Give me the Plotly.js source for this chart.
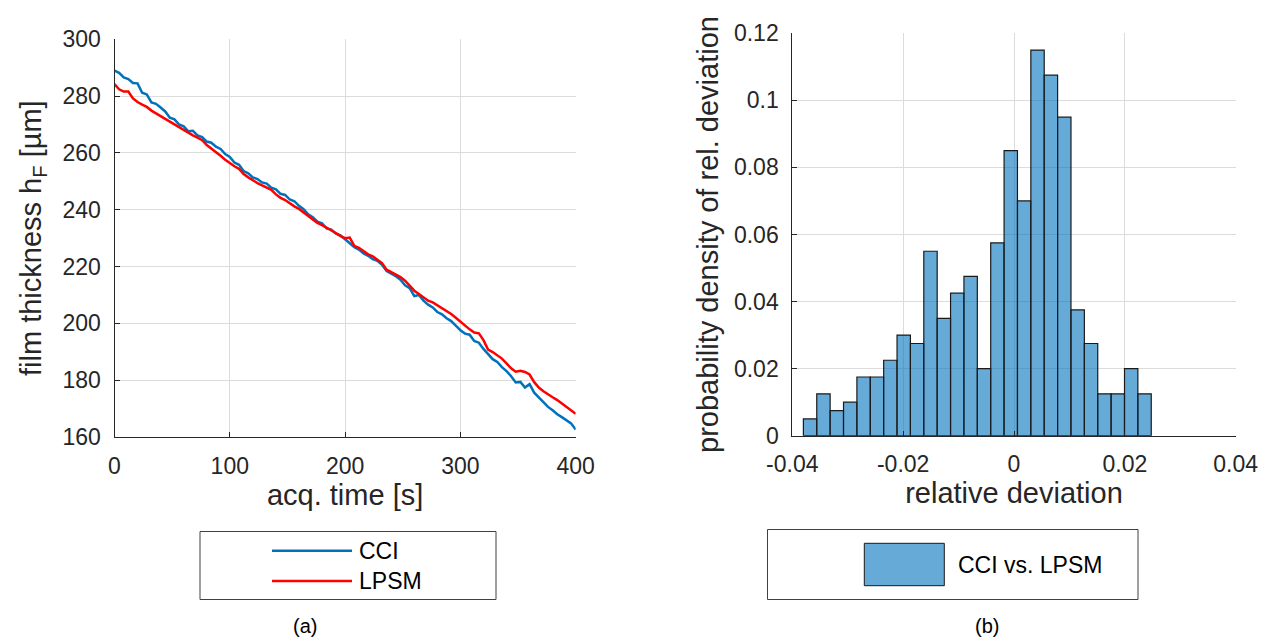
<!DOCTYPE html>
<html>
<head>
<meta charset="utf-8">
<script src="https://cdn.plot.ly/plotly-3.0.1.min.js"></script>
<style>html,body{margin:0;padding:0;background:#fff;}#chart{width:1278px;height:639px;}</style>
</head>
<body>
<div id="chart"></div>
<script>
// ---- data: panel (a) film thickness over acquisition time ----
const timeCCI = [0,4,8,12,16,20,24,28,32,36,40,44,48,52,56,60,64,68,72,76,80,84,88,92,96,100,104,108,112,116,120,124,128,132,136,140,144,148,152,156,160,164,168,172,176,180,184,188,192,196,200,204,208,212,216,220,224,228,232,236,240,244,248,252,256,260,264,268,272,276,280,284,288,292,296,300,304,308,312,316,320,324,328,332,336,340,344,348,352,356,360,364,368,372,376,380,384,388,392,396,400];
const thicknessCCI = [289.0,288.2,286.6,286.0,284.6,284.5,281.2,280.6,277.8,277.3,276.0,274.6,272.4,271.8,270.0,269.4,267.6,267.8,266.2,265.6,264.0,263.6,262.2,261.4,259.6,258.6,256.6,255.8,253.6,252.8,251.4,250.8,249.6,249.2,247.8,247.2,245.6,245.2,243.6,243.0,241.4,240.2,238.4,237.4,235.8,235.2,233.4,233.0,231.6,231.0,229.6,228.2,226.8,226.0,224.6,223.8,222.6,222.0,220.6,218.4,217.6,216.6,215.4,213.4,212.4,209.6,210.0,208.0,206.6,205.6,204.0,203.2,201.8,200.8,199.2,197.6,196.4,196.0,193.8,193.2,191.0,189.0,187.4,186.4,184.6,183.2,181.4,179.2,179.4,177.4,178.6,175.6,174.0,172.4,170.6,169.4,168.0,167.0,166.0,164.8,162.6];
const timeLPSM = [0,4,8,12,16,20,24,28,32,36,40,44,48,52,56,60,64,68,72,76,80,84,88,92,96,100,104,108,112,116,120,124,128,132,136,140,144,148,152,156,160,164,168,172,176,180,184,188,192,196,200,204,208,212,216,220,224,228,232,236,240,244,248,252,256,260,264,268,272,276,280,284,288,292,296,300,304,308,312,316,320,324,328,332,336,340,344,348,352,356,360,364,368,372,376,380,384,388,392,396,400];
const thicknessLPSM = [284.2,282.4,281.6,281.6,279.2,277.9,277.0,276.2,274.9,274.0,273.2,272.0,271.0,270.0,268.9,268.1,267.2,266.2,265.4,264.5,262.8,261.6,260.2,259.0,257.6,256.4,255.3,254.4,252.6,251.4,250.3,249.4,248.6,247.8,247.0,245.4,244.2,243.4,242.2,241.2,240.3,239.1,237.9,236.8,235.4,234.6,233.7,233.0,231.8,230.7,230.0,230.2,227.3,226.6,225.4,224.3,223.6,222.4,221.2,218.9,218.0,217.1,216.3,215.0,213.3,211.5,210.3,209.0,208.0,207.4,206.4,205.3,204.1,203.3,202.0,200.6,199.2,197.9,196.8,196.5,194.1,190.8,189.9,188.9,187.6,185.9,184.2,183.0,183.3,182.9,182.0,179.3,177.4,176.1,174.9,174.0,173.0,171.8,170.6,169.3,168.2];

// ---- data: panel (b) histogram of relative deviation ----
const binStart = -0.0380;
const binWidth = 0.002414;
const binProbability = [0.005,0.0125,0.0075,0.01,0.0175,0.0175,0.0225,0.03,0.0275,0.055,0.035,0.0425,0.0475,0.02,0.0575,0.085,0.07,0.115,0.1075,0.095,0.0375,0.0275,0.0125,0.0125,0.02,0.0125];

// ---- tick labels ----
const ticksA_x = [0,100,200,300,400];
const ticksA_y = [160,180,200,220,240,260,280,300];
const ticksB_xVals = [-0.04,-0.02,0,0.02,0.04];
const ticksB_xText = ['-0.04','-0.02','0','0.02','0.04'];
const ticksB_yVals = [0,0.02,0.04,0.06,0.08,0.1,0.12];
const ticksB_yText = ['0','0.02','0.04','0.06','0.08','0.1','0.12'];

const seriesNames = ['CCI','LPSM','CCI vs. LPSM'];
const panelLabels = ['(a)','(b)'];

// ---- layout helpers ----
const W = 1278, H = 639;
const px = x => x / W;
const py = y => 1 - y / H;
const FONT = '"Liberation Sans", Arial, Helvetica, sans-serif';
const TXT = '#262626';
const GRID = '#dcdcdc';
const blue = '#0072BD', red = '#FF0000';
const histFill = 'rgba(0,114,189,0.6)';
const TICK_SIZE = 23, TITLE_SIZE = 29, LEG_SIZE = 23;

const binCenters = binProbability.map((_, i) => binStart + binWidth * (i + 0.5));

const traces = [
  {x: timeCCI, y: thicknessCCI, type: 'scatter', mode: 'lines', name: seriesNames[0],
   line: {color: blue, width: 2.5}, xaxis: 'x', yaxis: 'y', showlegend: false},
  {x: timeLPSM, y: thicknessLPSM, type: 'scatter', mode: 'lines', name: seriesNames[1],
   line: {color: red, width: 2.5}, xaxis: 'x', yaxis: 'y', showlegend: false},
  {x: binCenters, y: binProbability, width: binCenters.map(() => binWidth), type: 'bar', name: seriesNames[2],
   marker: {color: histFill, line: {color: '#1a1a1a', width: 1.2}}, xaxis: 'x2', yaxis: 'y2', showlegend: false}
];

const axisCommon = {
  showline: true, linecolor: TXT, linewidth: 1, mirror: false,
  showgrid: true, gridcolor: GRID, gridwidth: 1, zeroline: false,
  ticks: 'inside', ticklen: 5, tickcolor: TXT, tickwidth: 1,
  tickfont: {family: FONT, size: TICK_SIZE, color: TXT}, fixedrange: true
};

const layout = {
  width: W, height: H,
  margin: {l: 0, r: 0, t: 0, b: 0},
  paper_bgcolor: '#fff', plot_bgcolor: '#fff',
  font: {family: FONT, color: TXT},
  showlegend: false,
  bargap: 0,
  xaxis: Object.assign({}, axisCommon, {
    domain: [px(114.5), px(575.7)], range: [0, 400], tickvals: ticksA_x,
    anchor: 'y', ticklabelstandoff: 8,
    title: {text: 'acq. time [s]', font: {family: FONT, size: TITLE_SIZE, color: TXT}, standoff: 4}
  }),
  yaxis: Object.assign({}, axisCommon, {
    domain: [py(437), py(39.3)], range: [160, 300], tickvals: ticksA_y,
    anchor: 'x', ticklabelstandoff: 8,
    title: {text: 'film thickness h<sub>F</sub> [µm]', font: {family: FONT, size: TITLE_SIZE, color: TXT}, standoff: 12}
  }),
  xaxis2: Object.assign({}, axisCommon, {
    domain: [px(792.3), px(1235.7)], range: [-0.04, 0.04], tickvals: ticksB_xVals, ticktext: ticksB_xText,
    anchor: 'y2', ticklabelstandoff: 8,
    title: {text: 'relative deviation', font: {family: FONT, size: TITLE_SIZE, color: TXT}, standoff: 4}
  }),
  yaxis2: Object.assign({}, axisCommon, {
    domain: [py(435.7), py(33.3)], range: [0, 0.12], tickvals: ticksB_yVals, ticktext: ticksB_yText,
    anchor: 'x2', ticklabelstandoff: 8,
    title: {text: 'probability density of rel. deviation', font: {family: FONT, size: TITLE_SIZE, color: TXT}, standoff: 6}
  }),
  shapes: [
    // legend (a) frame and samples
    {type: 'rect', xref: 'paper', yref: 'paper', x0: px(200), x1: px(496), y0: py(599.5), y1: py(531.5),
     line: {color: '#404040', width: 1}, fillcolor: 'rgba(255,255,255,0)'},
    {type: 'line', xref: 'paper', yref: 'paper', x0: px(272), x1: px(352), y0: py(550.7), y1: py(550.7),
     line: {color: blue, width: 2.5}},
    {type: 'line', xref: 'paper', yref: 'paper', x0: px(272), x1: px(352), y0: py(581), y1: py(581),
     line: {color: red, width: 2.5}},
    // legend (b) frame and swatch
    {type: 'rect', xref: 'paper', yref: 'paper', x0: px(767.5), x1: px(1138), y0: py(599.5), y1: py(529.5),
     line: {color: '#404040', width: 1}, fillcolor: 'rgba(255,255,255,0)'},
    {type: 'rect', xref: 'paper', yref: 'paper', x0: px(864.3), x1: px(944.3), y0: py(585.7), y1: py(543.3),
     line: {color: '#1a1a1a', width: 1}, fillcolor: histFill}
  ],
  annotations: [
    {xref: 'paper', yref: 'paper', x: px(357), y: py(550.7), xanchor: 'left', yanchor: 'middle', showarrow: false,
     text: seriesNames[0], font: {family: FONT, size: LEG_SIZE, color: '#000'}},
    {xref: 'paper', yref: 'paper', x: px(357), y: py(581), xanchor: 'left', yanchor: 'middle', showarrow: false,
     text: seriesNames[1], font: {family: FONT, size: LEG_SIZE, color: '#000'}},
    {xref: 'paper', yref: 'paper', x: px(956), y: py(564.5), xanchor: 'left', yanchor: 'middle', showarrow: false,
     text: seriesNames[2], font: {family: FONT, size: LEG_SIZE, color: '#000'}},
    {xref: 'paper', yref: 'paper', x: px(305), y: py(626), xanchor: 'center', yanchor: 'middle', showarrow: false,
     text: panelLabels[0], font: {family: FONT, size: 20, color: '#000'}},
    {xref: 'paper', yref: 'paper', x: px(987), y: py(626), xanchor: 'center', yanchor: 'middle', showarrow: false,
     text: panelLabels[1], font: {family: FONT, size: 20, color: '#000'}}
  ]
};

Plotly.newPlot('chart', traces, layout, {staticPlot: true, displayModeBar: false});
</script>
</body>
</html>
